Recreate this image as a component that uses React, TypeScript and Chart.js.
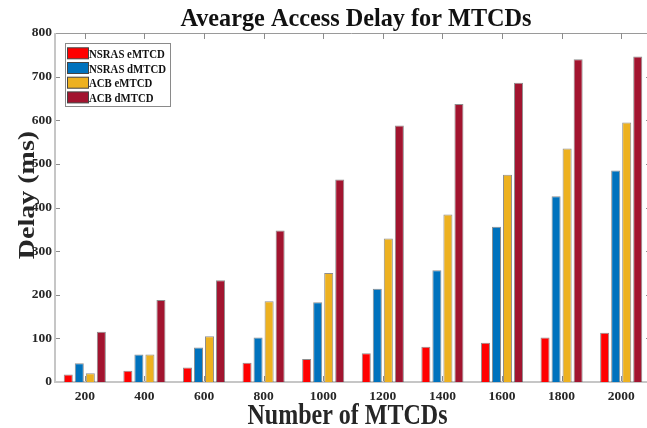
import React, { useEffect, useRef } from "react";
import { Chart, registerables } from "chart.js";

Chart.register(...registerables);

// ---- data ----
const categories = ["200", "400", "600", "800", "1000", "1200", "1400", "1600", "1800", "2000"];
const nsrasEMTCD = [17, 26, 33, 44, 53, 66, 81, 90, 102, 113];
const nsrasDMTCD = [43, 63, 79, 102, 183, 214, 256, 356, 426, 485];
const acbEMTCD = [20, 63, 105, 185, 250, 329, 384, 475, 535, 595];
const acbDMTCD = [115, 188, 233, 347, 464, 588, 637, 686, 740, 746];
const seriesLabels = ["NSRAS eMTCD", "NSRAS dMTCD", "ACB eMTCD", "ACB dMTCD"];
const seriesColors = ["#FF0000", "#0072BD", "#EDB120", "#A2142F"];
const yMin = 0;
const yMax = 800;
const yStep = 100;
const chartTitle = "Avearge Access Delay for MTCDs";
const xTitle = "Number of MTCDs";
const yTitle = "Delay (ms)";

const SERIF = '"Liberation Serif", "DejaVu Serif", serif';
const PLOT_RIGHT = 651; // plot box extends slightly past the canvas edge

function drawScaledText(
  ctx: CanvasRenderingContext2D,
  text: string,
  x: number,
  y: number,
  font: string,
  sx: number,
  align: CanvasTextAlign
) {
  ctx.save();
  ctx.translate(x, y);
  ctx.scale(sx, 1);
  ctx.font = font;
  ctx.textAlign = align;
  ctx.textBaseline = "alphabetic";
  ctx.fillText(text, 0, 0);
  ctx.restore();
}

const extendPlugin = {
  id: "extendRight",
  afterLayout(chart: any) {
    const xs = chart.scales.x;
    xs.right = PLOT_RIGHT;
    xs.width = PLOT_RIGHT - xs.left;
    xs.configure();
    chart.chartArea.right = PLOT_RIGHT;
    chart.chartArea.width = PLOT_RIGHT - chart.chartArea.left;
  },
};

const framePlugin = {
  id: "frame",
  beforeDatasetsDraw(chart: any) {
    const ctx: CanvasRenderingContext2D = chart.ctx;
    const { left, right, top, bottom } = chart.chartArea;
    const line = (x1: number, y1: number, x2: number, y2: number) => {
      ctx.beginPath();
      ctx.moveTo(x1, y1);
      ctx.lineTo(x2, y2);
      ctx.stroke();
    };
    ctx.save();
    ctx.strokeStyle = "#9a9a9a";
    ctx.lineWidth = 1;
    line(left, top + 0.5, right, top + 0.5);
    line(right - 0.5, top, right - 0.5, bottom);
    ctx.strokeStyle = "#8c8c8c";
    const ys = chart.scales.y;
    for (let v = yMin + yStep; v < yMax; v += yStep) {
      const py = Math.round(ys.getPixelForValue(v)) + 0.5;
      line(left, py, left + 5, py);
      line(right, py, right - 5, py);
    }
    const xs = chart.scales.x;
    for (let i = 0; i < categories.length; i++) {
      const px = Math.round(xs.getPixelForValue(i)) + 0.5;
      line(px, top, px, top + 6);
      line(px, bottom, px, bottom - 6);
    }
    ctx.strokeStyle = "#c6c6c6";
    ctx.lineWidth = 2;
    line(left, top, left, bottom + 1);
    line(left, bottom, right, bottom);
    ctx.restore();
  },
};

const textPlugin = {
  id: "texts",
  afterDraw(chart: any) {
    const ctx: CanvasRenderingContext2D = chart.ctx;
    ctx.save();
    ctx.fillStyle = "#111111";
    drawScaledText(ctx, chartTitle, 356, 26, `bold 25px ${SERIF}`, 0.97, "center");
    ctx.fillStyle = "#262626";
    drawScaledText(ctx, xTitle, 347.5, 424, `bold 30px ${SERIF}`, 0.8, "center");
    ctx.save();
    ctx.translate(34, 195);
    ctx.rotate(-Math.PI / 2);
    ctx.scale(1, 0.85);
    ctx.font = `bold 28px ${SERIF}`;
    ctx.textAlign = "center";
    ctx.textBaseline = "alphabetic";
    ctx.fillText(yTitle, 0, 0);
    ctx.restore();

    // legend
    const bx = 65, by = 43, bw = 105, bh = 63;
    ctx.fillStyle = "#ffffff";
    ctx.fillRect(bx, by, bw, bh);
    ctx.strokeStyle = "#8a8a8a";
    ctx.lineWidth = 1;
    ctx.strokeRect(bx + 0.5, by + 0.5, bw, bh);
    const ds = chart.data.datasets;
    for (let i = 0; i < ds.length; i++) {
      const cy = 53.3 + i * 14.7;
      ctx.fillStyle = ds[i].backgroundColor;
      ctx.fillRect(67, cy - 5.5, 21, 11);
      ctx.strokeStyle = "#444444";
      ctx.strokeRect(67.5, cy - 5.5, 21, 11);
      ctx.fillStyle = "#111111";
      drawScaledText(ctx, ds[i].label, 89, cy + 4.6, `bold 13.5px ${SERIF}`, 0.8, "left");
    }
    ctx.restore();
  },
};

export default function App() {
  const canvasRef = useRef<HTMLCanvasElement | null>(null);

  useEffect(() => {
    document.body.style.margin = "0";
    const canvas = canvasRef.current;
    if (!canvas) return;
    const values = [nsrasEMTCD, nsrasDMTCD, acbEMTCD, acbDMTCD];
    const chart = new Chart(canvas, {
      type: "bar",
      data: {
        labels: categories,
        datasets: values.map((d, i) => ({
          label: seriesLabels[i],
          data: d,
          backgroundColor: seriesColors[i],
          borderColor: "rgba(50,50,50,0.55)",
          borderWidth: 1,
          borderSkipped: "bottom",
          barPercentage: 0.82,
          categoryPercentage: 0.74,
        })),
      },
      options: {
        animation: false,
        responsive: false,
        devicePixelRatio: 1,
        layout: { padding: { top: 33, right: 0, left: 0, bottom: 0 } },
        plugins: {
          legend: { display: false },
          title: { display: false },
          tooltip: { enabled: false },
        },
        scales: {
          x: {
            grid: { display: false, drawTicks: false },
            border: { display: false },
            ticks: {
              padding: 6,
              color: "#262626",
              font: { family: SERIF, size: 13.5, weight: "bold" },
              maxRotation: 0,
            },
            afterFit: (scale: any) => {
              scale.height = 46;
            },
          },
          y: {
            min: yMin,
            max: yMax,
            grid: { display: false, drawTicks: false },
            border: { display: false },
            ticks: {
              stepSize: yStep,
              padding: 3,
              color: "#262626",
              font: { family: SERIF, size: 13.5, weight: "bold" },
            },
            afterFit: (scale: any) => {
              scale.width = 55;
            },
          },
        },
      } as any,
      plugins: [extendPlugin, framePlugin, textPlugin],
    });
    return () => chart.destroy();
  }, []);

  return (
    <canvas
      ref={canvasRef}
      width={647}
      height={428}
      style={{ display: "block", width: 647, height: 428 }}
    />
  );
}
